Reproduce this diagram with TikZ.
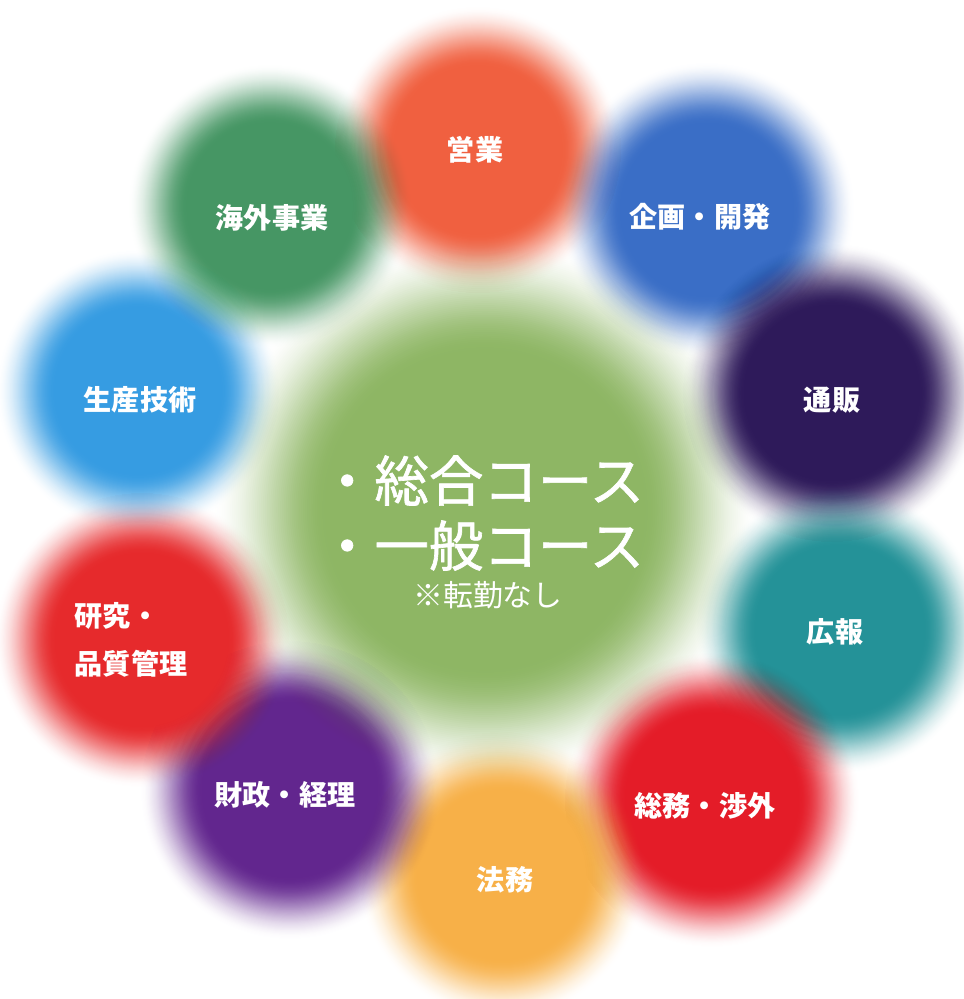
\documentclass[tikz,border=0pt]{standalone}
\usepackage{fontspec}
\setmainfont{Noto Sans CJK JP}
\newfontfamily\coursefont{Noto Sans CJK JP}[FakeBold=1.2]
\usepackage{xcolor}

% bubble colours
\definecolor{coursegreen}{RGB}{142,182,100}
\definecolor{eigyocol}{RGB}{240,96,64}
\definecolor{kikakucol}{RGB}{58,110,198}
\definecolor{tsuhancol}{RGB}{46,26,90}
\definecolor{kohocol}{RGB}{36,146,152}
\definecolor{somucol}{RGB}{228,28,40}
\definecolor{homucol}{RGB}{247,176,72}
\definecolor{zaiseicol}{RGB}{98,38,142}
\definecolor{kenkyucol}{RGB}{230,42,44}
\definecolor{seisancol}{RGB}{54,156,226}
\definecolor{kaigaicol}{RGB}{70,150,100}

% soft edged disc: evenly spaced translucent rings, smoothstep fall-off
\newcommand{\bubble}[4]{%
    \foreach \k in {1,...,60}{
        \pgfmathsetmacro{\ringa}{(\k-1)/60}
        \pgfmathsetmacro{\ringb}{\k/60}
        \pgfmathsetmacro{\ringop}{1-(1-3*\ringb*\ringb+2*\ringb*\ringb*\ringb)/(1-3*\ringa*\ringa+2*\ringa*\ringa*\ringa)}
        \fill[#4, fill opacity=\ringop] (#1,#2) circle ({#3*(1-0.42*\ringb)});
    }
}

\tikzset{
    dept/.style={text=white, font=\bfseries\fontsize{16}{27}\selectfont, align=center},
    course/.style={text=white, font=\coursefont\fontsize{31}{37}\selectfont, align=left},
    note/.style={text=white, font=\fontsize{17}{20}\selectfont}
}

\begin{document}
\begin{tikzpicture}[x=0.02cm, y=-0.02cm]
    \useasboundingbox (0,0) rectangle (963,999);

    % Outer bubbles
    \bubble{478}{150}{145}{eigyocol}
    \bubble{707}{210}{149}{kikakucol}
    \bubble{832}{393}{151}{tsuhancol}
    \bubble{840}{630}{145}{kohocol}
    \bubble{712}{800}{149}{somucol}
    \bubble{502}{875}{145}{homucol}
    \bubble{290}{790}{151}{zaiseicol}
    \bubble{142}{640}{149}{kenkyucol}
    \bubble{138}{391}{143}{seisancol}
    \bubble{270}{206}{143}{kaigaicol}

    % Centre bubble
    \bubble{485}{510}{274}{coursegreen}

    % Department labels
    \node[dept] (eigyo) at (475,150) {営業};
    \node[dept] (kikaku) at (700,217) {企画・開発};
    \node[dept] (tsuhan) at (832,400) {通販};
    \node[dept] (koho) at (835,632) {広報};
    \node[dept] (somu) at (705,806) {総務・渉外};
    \node[dept] (homu) at (505,880) {法務};
    \node[dept] (zaisei) at (285,795) {財政・経理};
    \node[dept, align=left] (kenkyu) at (131,640) {研究・\\品質管理};
    \node[dept] (seisan) at (140,400) {生産技術};
    \node[dept] (kaigai) at (272,218) {海外事業};

    % Courses in the middle
    \node[course] (course) at (482,513) {・総合コース\\・一般コース};
    \node[note] (tenkin) at (488,595) {※転勤なし};
\end{tikzpicture}
\end{document}
